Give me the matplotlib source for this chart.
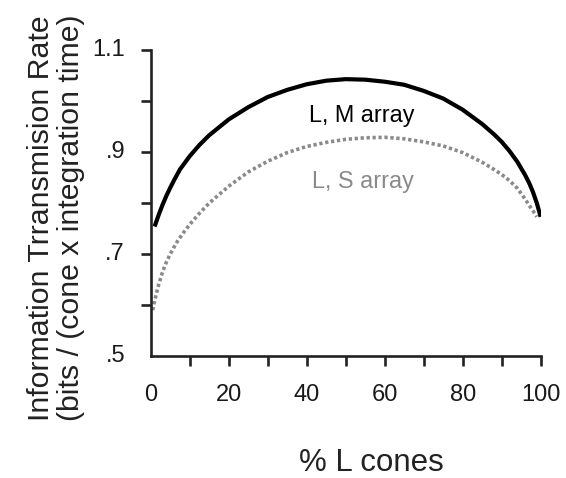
import matplotlib
matplotlib.use("Agg")
import matplotlib.pyplot as plt

plt.rcParams['font.family'] = ['Liberation Sans', 'DejaVu Sans']

# % L cones and transmission rate for the L,M cone array
lm_x = [1, 2, 3, 4, 5, 6, 7.5, 10, 12.5, 15, 20, 25, 30, 35, 40, 45, 50, 55,
        60, 65, 70, 75, 80, 85, 88, 90, 92, 94, 96, 97, 98, 99, 100]
lm_y = [0.754, 0.776, 0.796, 0.814, 0.830, 0.845, 0.866, 0.892, 0.914, 0.933,
        0.964, 0.988, 1.008, 1.022, 1.033, 1.040, 1.043, 1.042, 1.038, 1.032,
        1.020, 1.005, 0.983, 0.955, 0.935, 0.920, 0.902, 0.881, 0.855, 0.840,
        0.822, 0.800, 0.773]

# % L cones and transmission rate for the L,S cone array
ls_x = [0.5, 1, 1.5, 2, 3, 4, 5, 6, 7, 8.5, 10, 12.5, 15, 20, 25, 30, 35, 40,
        45, 50, 55, 60, 65, 70, 75, 80, 85, 88, 90, 92, 94, 96, 97, 98, 99]
ls_y = [0.590, 0.608, 0.624, 0.639, 0.664, 0.684, 0.700, 0.714, 0.727, 0.743,
        0.758, 0.780, 0.800, 0.833, 0.861, 0.882, 0.899, 0.911, 0.919, 0.925,
        0.928, 0.929, 0.926, 0.920, 0.912, 0.899, 0.880, 0.866, 0.856, 0.844,
        0.829, 0.808, 0.796, 0.785, 0.773]

x_ticks = [10, 20, 30, 40, 50, 60, 70, 80, 90, 100]
x_ticklabels = ['0', '20', '40', '60', '80', '100']
x_label_pos = [0, 20, 40, 60, 80, 100]
y_ticks = [0.6, 0.7, 0.8, 0.9, 1.0, 1.1]
y_label_pos = [0.5, 0.7, 0.9, 1.1]
y_ticklabels = ['.5', '.7', '.9', '1.1']

fig = plt.figure(figsize=(5.66, 4.78), dpi=100)
ax = fig.add_axes([0.2663, 0.2552, 0.689, 0.640])

ax.plot(lm_x, lm_y, color='black', lw=3.0, solid_capstyle='butt',
        solid_joinstyle='round')
ax.plot(ls_x, ls_y, color='#8a8a8a', lw=2.6, linestyle=(0, (0.9, 0.75)),
        dash_capstyle='butt')

ax.text(54.2, 0.9594, 'L, M array', ha='center', va='baseline',
        fontsize=16.8, color='black')
ax.text(54.4, 0.830, 'L, S array', ha='center', va='baseline',
        fontsize=16.8, color='#8a8a8a')

ax.set_xlim(0, 100)
ax.set_ylim(0.5, 1.1)

for side in ('top', 'right'):
    ax.spines[side].set_visible(False)
for side in ('left', 'bottom'):
    ax.spines[side].set_linewidth(1.9)
    ax.spines[side].set_color('#222222')

# tick marks every 10 %, labels every 20 %
ax.set_xticks(x_ticks)
ax.set_xticklabels([])
ax.set_yticks(y_ticks)
ax.set_yticklabels([])
ax.tick_params(axis='both', direction='out', length=7.5, width=1.9,
               color='#222222')

for xv, lab in zip(x_label_pos, x_ticklabels):
    ax.annotate(lab, xy=(xv, 0.5), xycoords='data', xytext=(0, -20),
                textcoords='offset points', ha='center', va='top',
                fontsize=17, color='#1a1a1a')
for yv, lab in zip(y_label_pos, y_ticklabels):
    ax.annotate(lab, xy=(0, yv), xycoords='data', xytext=(-18.5, 0),
                textcoords='offset points', ha='right', va='center',
                fontsize=17, color='#1a1a1a')

fig.text(371 / 566, 1 - 463 / 478, '% L cones', ha='center', va='center',
         fontsize=22.5, color='#222222')
fig.text(56 / 566, 1 - 218 / 478,
         'Information Trransmision Rate\n(bits / (cone x integration time)',
         rotation=90, ha='center', va='center', multialignment='center',
         fontsize=21.8, linespacing=1.12, color='#222222')

fig.savefig('out.png', dpi=100)
